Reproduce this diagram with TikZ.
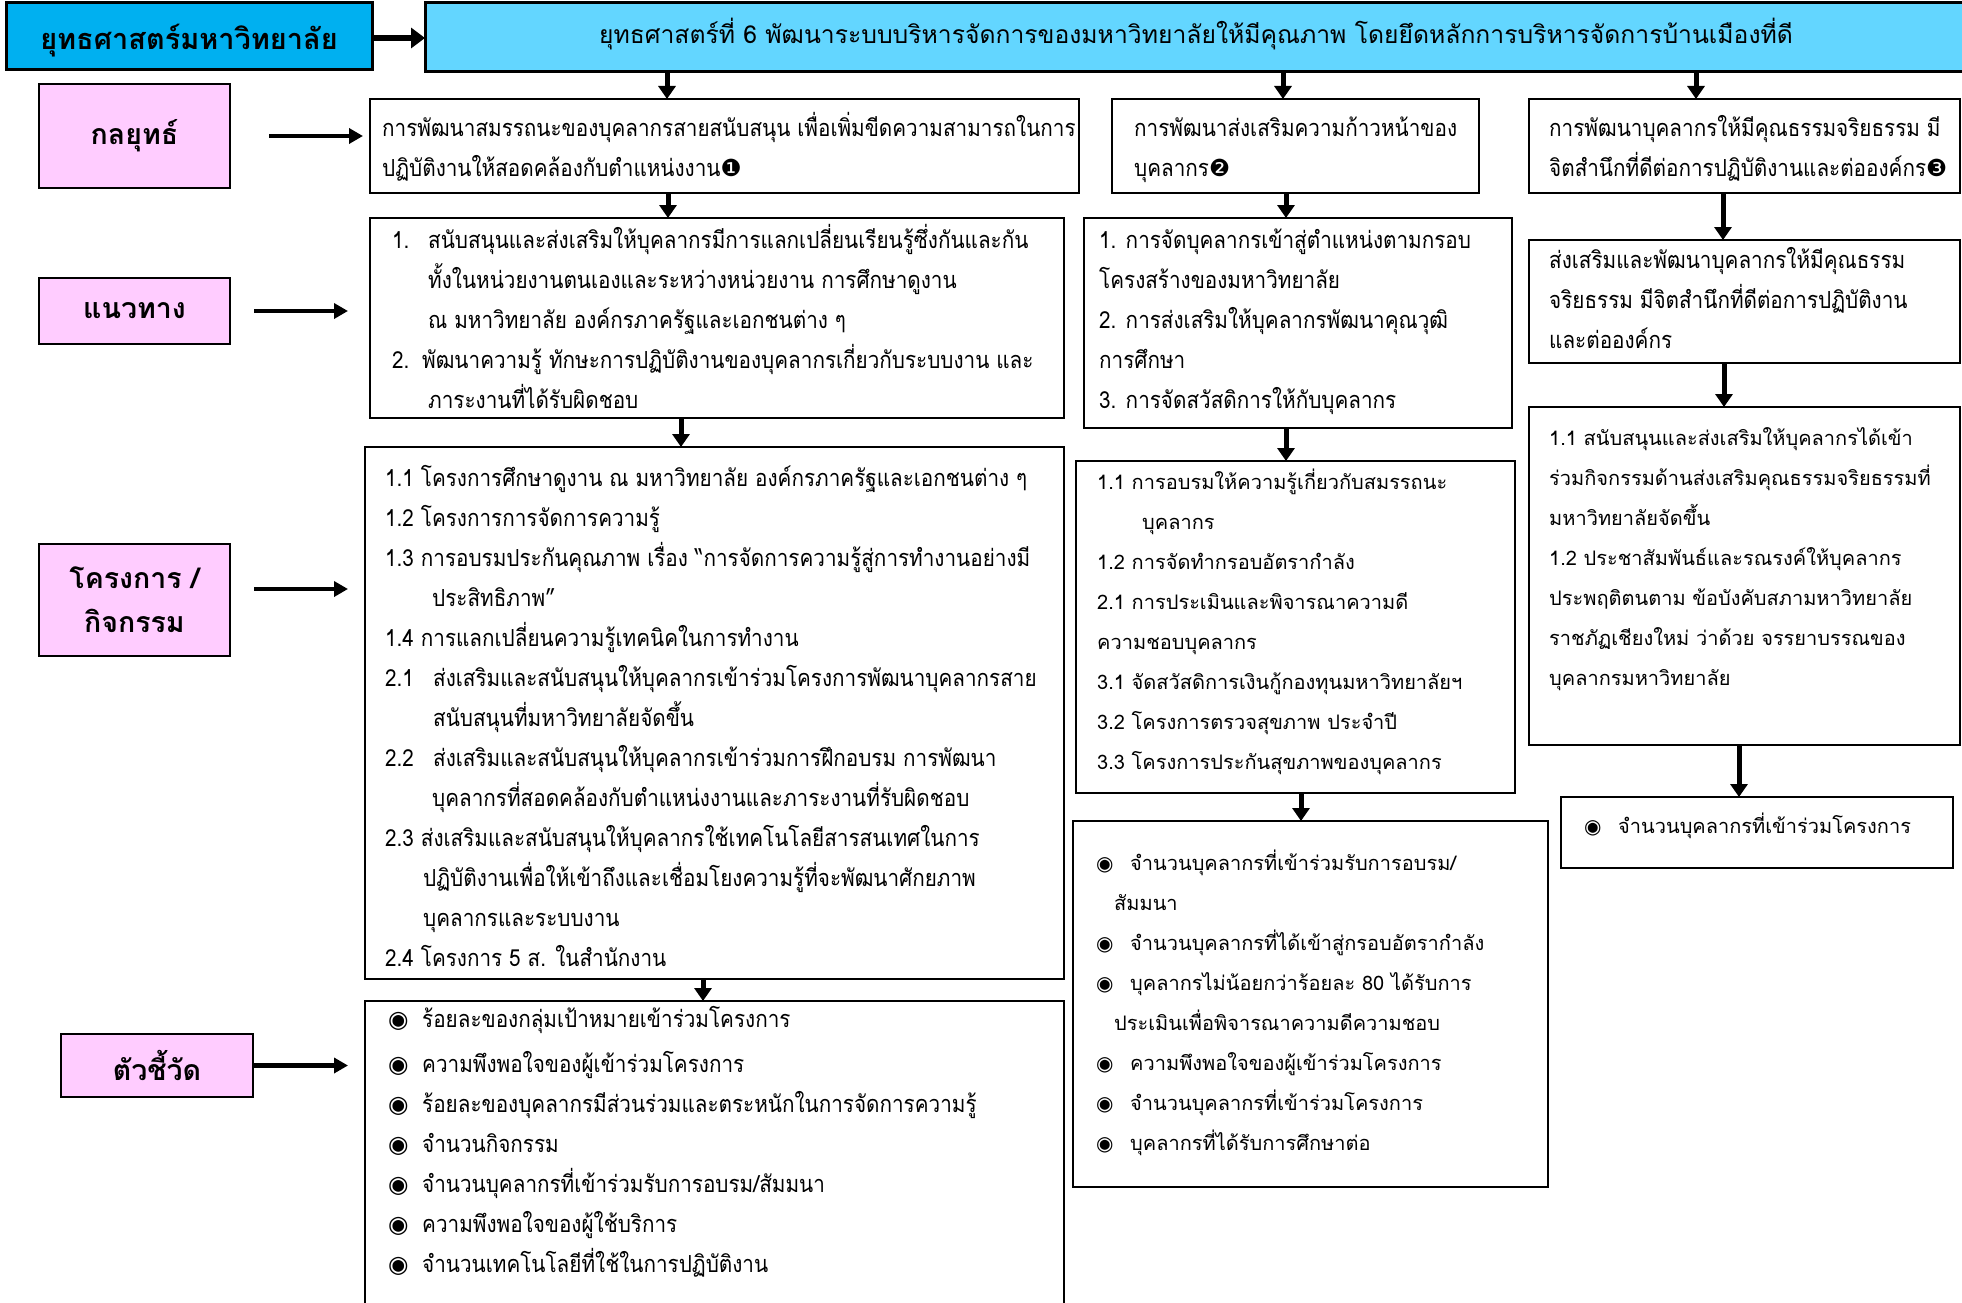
\documentclass[tikz,border=0pt]{standalone}
\usepackage{fontspec}
\newfontfamily\thaic[Script=Thai,FakeStretch=0.88]{Loma}
\newfontfamily\thaiw[Script=Thai]{Loma}
\newfontfamily\dejavu{DejaVu Sans}
\usetikzlibrary{arrows.meta}
\definecolor{hdark}{HTML}{00B0F0}
\definecolor{hlight}{HTML}{63D6FF}
\definecolor{labpink}{HTML}{FFCCFF}
\newcommand\nbm[1]{{\dejavu #1}}
\newcommand\bulx{\makebox[34pt][l]{\dejavu ◉}}
\begin{document}
\begin{tikzpicture}[x=1pt,y=-1pt,
 bx/.style={draw=black, line width=2pt, fill=white, anchor=north west, inner sep=0pt, outer sep=0pt},
 hb/.style={draw=black, line width=3pt, anchor=north west, inner sep=0pt, outer sep=0pt},
 lab/.style={draw=black, line width=2pt, fill=labpink, anchor=north west, inner sep=0pt, outer sep=0pt, align=center, font=\thaiw\bfseries\fontsize{28.5}{44}\selectfont},
 tc/.style={anchor=north west, align=left, inner sep=0pt, font=\thaic\fontsize{23.5}{40}\selectfont},
 tw/.style={anchor=north west, align=left, inner sep=0pt, font=\thaiw\fontsize{20}{40}\selectfont},
 harr/.style={line width=4.5pt, -{Triangle[length=14pt,width=15pt]}},
 varr/.style={line width=5pt, -{Triangle[length=13pt,width=17pt]}},
 hdarr/.style={line width=6pt, -{Triangle[length=14pt,width=20pt]}}]
\useasboundingbox (0,0) rectangle (1962,1303);
\fill[white] (0,0) rectangle (1962,1303);
% header
\node[hb, fill=hdark, minimum width=366pt, minimum height=67pt] (H1) at (6,3) {};
\node[anchor=base, inner sep=0pt, font=\thaiw\bfseries\fontsize{28.9}{34}\selectfont] (H1t) at (189,50) {ยุทธศาสตร์มหาวิทยาลัย};
\node[hb, fill=hlight, minimum width=1550pt, minimum height=69pt] (H2) at (425,3) {};
\node[anchor=base, inner sep=0pt, font=\thaiw\fontsize{24.7}{34}\selectfont] (H2t) at (1196,44) {ยุทธศาสตร์ที่ 6 พัฒนาระบบบริหารจัดการของมหาวิทยาลัยให้มีคุณภาพ โดยยึดหลักการบริหารจัดการบ้านเมืองที่ดี};
\draw[hdarr] (H1.east |- 0,38) -- (H2.west |- 0,38);
% labels
\node[lab, minimum width=191pt, minimum height=104pt] (L1) at (39,84) {กลยุทธ์};
\node[lab, minimum width=191pt, minimum height=66pt] (L2) at (39,278) {แนวทาง};
\node[lab, minimum width=191pt, minimum height=112pt] (L3) at (39,544) {โครงการ /\\กิจกรรม};
\node[lab, minimum width=192pt, minimum height=63pt] (L4) at (61,1034) {ตัวชี้วัด};
% row 1 boxes
\node[bx, minimum width=709pt, minimum height=94pt] (S1) at (370,99) {};
\node[bx, minimum width=367pt, minimum height=94pt] (S2) at (1112,99) {};
\node[bx, minimum width=431pt, minimum height=94pt] (S3) at (1529,99) {};
% row 2
\node[bx, minimum width=694pt, minimum height=200pt] (A1) at (370,218) {};
\node[bx, minimum width=428pt, minimum height=210pt] (A2) at (1084,218) {};
\node[bx, minimum width=431pt, minimum height=123pt] (A3) at (1529,240) {};
% row 3
\node[bx, minimum width=699pt, minimum height=532pt] (P1) at (365,447) {};
\node[bx, minimum width=439pt, minimum height=332pt] (P2) at (1076,461) {};
\node[bx, minimum width=431pt, minimum height=338pt] (P3) at (1529,407) {};
% row 4
\node[bx, minimum width=699pt, minimum height=330pt] (I1) at (365,1001) {};
\node[bx, minimum width=475pt, minimum height=366pt] (I2) at (1073,821) {};
\node[bx, minimum width=392pt, minimum height=71pt] (I3) at (1561,797) {};
% texts row 1
\node[tc] (S1t) at (382,108) {\strut การพัฒนาสมรรถนะของบุคลากรสายสนับสนุน เพื่อเพิ่มขีดความสามารถในการ\\ปฏิบัติงานให้สอดคล้องกับตำแหน่งงาน\nbm{❶}};
\node[tc] (S2t) at (1134,108) {\strut การพัฒนาส่งเสริมความก้าวหน้าของ\\บุคลากร\nbm{❷}};
\node[tc] (S3t) at (1549,108) {\strut การพัฒนาบุคลากรให้มีคุณธรรมจริยธรรม มี\\จิตสำนึกที่ดีต่อการปฏิบัติงานและต่อองค์กร\nbm{❸}};
% texts row 2
\node[tc] (A1t) at (392,220) {\strut\makebox[36pt][l]{1.}สนับสนุนและส่งเสริมให้บุคลากรมีการแลกเปลี่ยนเรียนรู้ซึ่งกันและกัน\\
\hspace*{36pt}ทั้งในหน่วยงานตนเองและระหว่างหน่วยงาน การศึกษาดูงาน\\
\hspace*{36pt}ณ มหาวิทยาลัย องค์กรภาครัฐและเอกชนต่าง ๆ\\
\makebox[30pt][l]{2.}พัฒนาความรู้ ทักษะการปฏิบัติงานของบุคลากรเกี่ยวกับระบบงาน และ\\
\hspace*{36pt}ภาระงานที่ได้รับผิดชอบ};
\node[tc] (A2t) at (1099,220) {\strut 1. การจัดบุคลากรเข้าสู่ตำแหน่งตามกรอบ\\โครงสร้างของมหาวิทยาลัย\\2. การส่งเสริมให้บุคลากรพัฒนาคุณวุฒิ\\การศึกษา\\3. การจัดสวัสดิการให้กับบุคลากร};
\node[tc] (A3t) at (1549,240) {\strut ส่งเสริมและพัฒนาบุคลากรให้มีคุณธรรม\\จริยธรรม มีจิตสำนึกที่ดีต่อการปฏิบัติงาน\\และต่อองค์กร};
% texts row 3
\node[tc] (P1t) at (385,458) {\strut 1.1 โครงการศึกษาดูงาน ณ มหาวิทยาลัย องค์กรภาครัฐและเอกชนต่าง ๆ\\
1.2 โครงการการจัดการความรู้\\
1.3 การอบรมประกันคุณภาพ เรื่อง “การจัดการความรู้สู่การทำงานอย่างมี\\
\hspace*{47pt}ประสิทธิภาพ”\\
1.4 การแลกเปลี่ยนความรู้เทคนิคในการทำงาน\\
\makebox[48pt][l]{2.1}ส่งเสริมและสนับสนุนให้บุคลากรเข้าร่วมโครงการพัฒนาบุคลากรสาย\\
\hspace*{48pt}สนับสนุนที่มหาวิทยาลัยจัดขึ้น\\
\makebox[48pt][l]{2.2}ส่งเสริมและสนับสนุนให้บุคลากรเข้าร่วมการฝึกอบรม การพัฒนา\\
\hspace*{47pt}บุคลากรที่สอดคล้องกับตำแหน่งงานและภาระงานที่รับผิดชอบ\\
2.3 ส่งเสริมและสนับสนุนให้บุคลากรใช้เทคโนโลยีสารสนเทศในการ\\
\hspace*{38pt}ปฏิบัติงานเพื่อให้เข้าถึงและเชื่อมโยงความรู้ที่จะพัฒนาศักยภาพ\\
\hspace*{38pt}บุคลากรและระบบงาน\\
2.4 โครงการ 5 ส. ในสำนักงาน};
\node[tw] (P2t) at (1097,461) {\strut 1.1 การอบรมให้ความรู้เกี่ยวกับสมรรถนะ\\
\hspace*{45pt}บุคลากร\\
1.2 การจัดทำกรอบอัตรากำลัง\\
2.1 การประเมินและพิจารณาความดี\\
ความชอบบุคลากร\\
3.1 จัดสวัสดิการเงินกู้กองทุนมหาวิทยาลัยฯ\\
3.2 โครงการตรวจสุขภาพ ประจำปี\\
3.3 โครงการประกันสุขภาพของบุคลากร};
\node[tw] (P3t) at (1549,417) {\strut 1.1 สนับสนุนและส่งเสริมให้บุคลากรได้เข้า\\
ร่วมกิจกรรมด้านส่งเสริมคุณธรรมจริยธรรมที่\\
มหาวิทยาลัยจัดขึ้น\\
1.2 ประชาสัมพันธ์และรณรงค์ให้บุคลากร\\
ประพฤติตนตาม ข้อบังคับสภามหาวิทยาลัย\\
ราชภัฏเชียงใหม่ ว่าด้วย จรรยาบรรณของ\\
บุคลากรมหาวิทยาลัย};
% texts row 4
\node[tc] (I1t) at (388,999) {\strut\bulx ร้อยละของกลุ่มเป้าหมายเข้าร่วมโครงการ\\[5pt]
\bulx ความพึงพอใจของผู้เข้าร่วมโครงการ\\
\bulx ร้อยละของบุคลากรมีส่วนร่วมและตระหนักในการจัดการความรู้\\
\bulx จำนวนกิจกรรม\\
\bulx จำนวนบุคลากรที่เข้าร่วมรับการอบรม/สัมมนา\\
\bulx ความพึงพอใจของผู้ใช้บริการ\\
\bulx จำนวนเทคโนโลยีที่ใช้ในการปฏิบัติงาน};
\node[tw] (I2t) at (1096,842) {\strut\bulx จำนวนบุคลากรที่เข้าร่วมรับการอบรม/\\
\hspace*{18pt}สัมมนา\\
\bulx จำนวนบุคลากรที่ได้เข้าสู่กรอบอัตรากำลัง\\
\bulx บุคลากรไม่น้อยกว่าร้อยละ 80 ได้รับการ\\
\hspace*{18pt}ประเมินเพื่อพิจารณาความดีความชอบ\\
\bulx ความพึงพอใจของผู้เข้าร่วมโครงการ\\
\bulx จำนวนบุคลากรที่เข้าร่วมโครงการ\\
\bulx บุคลากรที่ได้รับการศึกษาต่อ};
\node[tw] (I3t) at (1584,805) {\strut\bulx จำนวนบุคลากรที่เข้าร่วมโครงการ};
% horizontal arrows
\draw[harr] ([xshift=39pt]L1.east) -- ([xshift=-7pt]S1.west |- L1.east);
\draw[harr] ([xshift=24pt]L2.east) -- ([xshift=-22pt]A1.west |- L2.east);
\draw[harr] ([xshift=24pt,yshift=11pt]L3.east) -- ([xshift=-17pt]P1.west |- 0,589);
\draw[harr] (L4.east) -- ([xshift=-17pt]I1.west |- L4.east);
% vertical arrows
\draw[varr] (H2.south -| 667,0) -- (S1.north -| 667,0);
\draw[varr] (H2.south -| 1283,0) -- (S2.north -| 1283,0);
\draw[varr] (H2.south -| 1696,0) -- (S3.north -| 1696,0);
\draw[varr] (S1.south -| 668,0) -- (A1.north -| 668,0);
\draw[varr] (S2.south -| 1286,0) -- (A2.north -| 1286,0);
\draw[varr] (S3.south -| 1723,0) -- (A3.north -| 1723,0);
\draw[varr] (A1.south -| 681,0) -- (P1.north -| 681,0);
\draw[varr] (A2.south -| 1286,0) -- (P2.north -| 1286,0);
\draw[varr] (A3.south -| 1724,0) -- (P3.north -| 1724,0);
\draw[varr] (P1.south -| 703,0) -- (I1.north -| 703,0);
\draw[varr] (P2.south -| 1301,0) -- (I2.north -| 1301,0);
\draw[varr] (P3.south -| 1739,0) -- (I3.north -| 1739,0);
\end{tikzpicture}
\end{document}
